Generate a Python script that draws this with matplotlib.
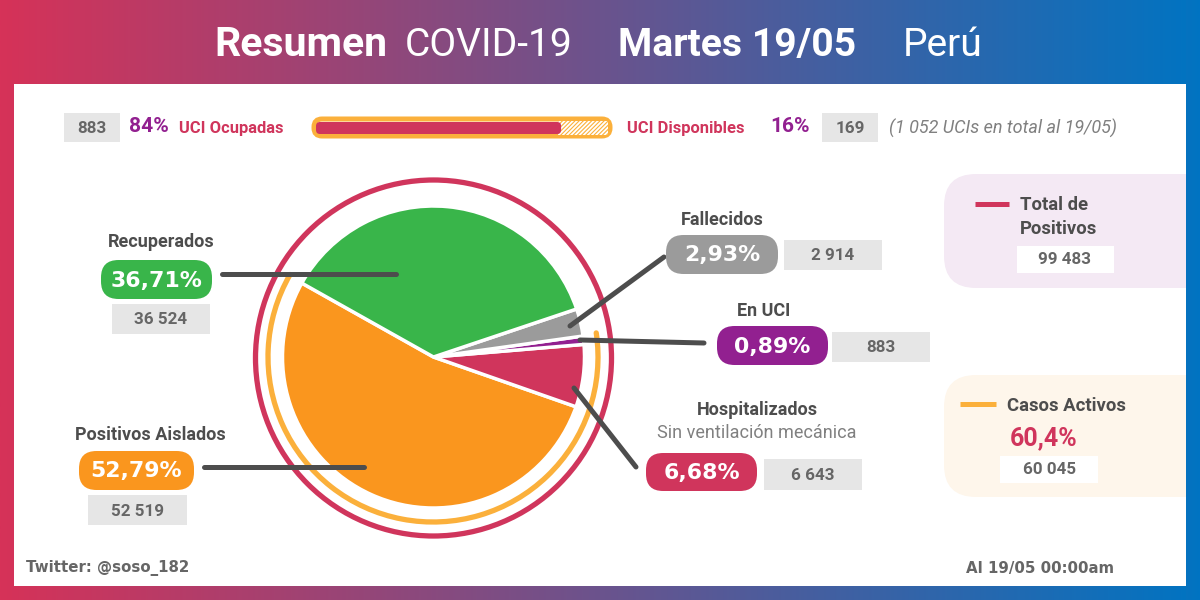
import numpy as np
import matplotlib
matplotlib.use("Agg")
import matplotlib.pyplot as plt
from matplotlib.patches import FancyBboxPatch, Rectangle, Arc, Circle

slice_names = ["Positivos Aislados", "Hospitalizados", "En UCI", "Fallecidos", "Recuperados"]
slice_pct = [52.79, 6.68, 0.89, 2.93, 36.71]
slice_pct_text = ["52,79%", "6,68%", "0,89%", "2,93%", "36,71%"]
slice_counts = ["52 519", "6 643", "883", "2 914", "36 524"]
slice_colors = ["#FA961E", "#D0355C", "#922090", "#9B9B9B", "#39B54A"]
uci_occupied = 883
uci_free = 169
total_pos = "99 483"
activos = "60 045"
activos_pct = 60.4

DARK = "#4D4D4D"; GREY = "#E6E6E6"; CRIM = "#D0355C"; PURP = "#922090"; ORNG = "#FBB03B"
R = "Roboto"; D = "DejaVu Sans"

fig = plt.figure(figsize=(12, 6), dpi=100)
ax = fig.add_axes([0, 0, 1, 1])
ax.set_xlim(0, 1200); ax.set_ylim(600, 0); ax.axis("off")

g = np.linspace(0, 1, 512)[None, :, None]
c0 = np.array([214, 50, 88]) / 255; c1 = np.array([0, 116, 194]) / 255
ax.imshow(c0 + (c1 - c0) * g, extent=[0, 1200, 600, 0], aspect="auto", zorder=0)
ax.add_patch(Rectangle((14, 84), 1172, 502, fc="white", ec="none", zorder=1))

def T(x, y, s, size, color=DARK, w="bold", fam=R, ha="center", style="normal", z=8):
    return ax.text(x, y, s, fontsize=size * 0.72, color=color, fontweight=w, family=fam,
                   ha=ha, va="center", fontstyle=style, zorder=z)

def box(x0, y0, x1, y1, s, size=17):
    ax.add_patch(Rectangle((x0, y0), x1 - x0, y1 - y0, fc=GREY, ec="none", zorder=3))
    T((x0 + x1) / 2, (y0 + y1) / 2 + 1, s, size, "#666666")

def pill(x0, y0, x1, y1, color, s, size=22):
    h = y1 - y0
    ax.add_patch(FancyBboxPatch((x0 + h * .45, y0 + h * .45), x1 - x0 - h * .9, h * .1,
                                boxstyle=f"round,pad=0,rounding_size={h*.45}",
                                mutation_aspect=1, fc=color, ec="none", zorder=6))
    ax.add_patch(FancyBboxPatch((x0 + h * .45, y0 + h * .45), x1 - x0 - h * .9, h * .1,
                                boxstyle=f"round,pad={h*.45},rounding_size={h*.45}",
                                fc=color, ec="none", zorder=6))
    T((x0 + x1) / 2, (y0 + y1) / 2 + 1, s, size, "white", fam=D)

# title
for x, s, w, sz in [(214, "Resumen", "bold", 41), (405, "COVID-19", "normal", 39),
                    (618, "Martes 19/05", "bold", 39), (903, "Perú", "normal", 39)]:
    T(x, 45, s, sz, "white", w, ha="left")

# UCI row
box(64, 113, 120, 142, str(uci_occupied), 17)
T(149, 127, "84%", 21, PURP, fam=R)
T(179, 128, "UCI Ocupadas", 16.5, CRIM, ha="left")
box(822, 113, 878, 142, str(uci_free), 17)
T(627, 128, "UCI Disponibles", 16.5, CRIM, ha="left")
T(790, 127, "16%", 21, PURP, fam=R)
T(889, 128, "(1 052 UCIs en total al 19/05)", 18, "#808080", "normal", ha="left", style="italic")

bar_x0, bar_x1 = 316, 608
share = uci_occupied / (uci_occupied + uci_free)
ax.add_patch(FancyBboxPatch((317, 122), 290, 11, boxstyle="round,pad=3,rounding_size=8",
                            fc="white", ec=ORNG, lw=3.6, zorder=3))
plt.rcParams["hatch.linewidth"] = 0.8
ax.add_patch(Rectangle((bar_x0 + (bar_x1 - bar_x0) * share - 3, 121), (bar_x1 - bar_x0) * (1 - share) + 3, 14,
                       fc="white", ec=ORNG, lw=0, hatch="////////", zorder=4))
ax.add_patch(FancyBboxPatch((bar_x0 + 3, 125), (bar_x1 - bar_x0) * share - 6, 6,
                            boxstyle="round,pad=3,rounding_size=4", fc=CRIM, ec="none", zorder=5))

# pie (own axes, pixel box centred on 433,357)
cx, cy, rad = 433.5, 357, 151
pax = fig.add_axes([(cx - rad) / 1200, 1 - (cy + rad) / 600, 2 * rad / 1200, 2 * rad / 600], zorder=2)
pax.pie(slice_pct, colors=slice_colors, startangle=150.7, counterclock=True, radius=1,
        wedgeprops=dict(edgecolor="white", linewidth=2.5))
pax.set_xlim(-1, 1); pax.set_ylim(-1, 1); pax.patch.set_alpha(0)

# rings: main axes has inverted y so angles are mirrored
ax.add_patch(Circle((433.5, 358), 178, fc="none", ec=CRIM, lw=3.8, zorder=2))
ax.add_patch(Arc((433, 357), 330, 330, theta1=-8.4, theta2=210, ec=ORNG, lw=3.8, zorder=2, capstyle="round"))

ov = fig.add_axes([0, 0, 1, 1], zorder=5)
ov.set_xlim(0, 1200); ov.set_ylim(600, 0); ov.axis("off"); ov.patch.set_alpha(0)
for xs, ys in [((222, 396), (274, 274)), ((204, 364), (467, 467)), ((664, 570), (257, 326)),
               ((704, 580), (343, 340)), ((636, 574), (467, 388))]:
    ov.plot(xs, ys, color=DARK, lw=3.6, solid_capstyle="round")
ax = ov

# labels
T(161, 242, slice_names[4], 18)
pill(101, 260, 212, 299, slice_colors[4], slice_pct_text[4])
box(112, 304, 210, 334, slice_counts[4])

T(150, 435, slice_names[0], 18)
pill(79, 451, 194, 490, slice_colors[0], slice_pct_text[0])
box(88, 495, 187, 525, slice_counts[0])

T(722, 220, slice_names[3], 18)
pill(666, 235, 778, 274, slice_colors[3], slice_pct_text[3])
box(784, 240, 882, 270, slice_counts[3])

T(764, 311, slice_names[2], 18)
pill(717, 326, 828, 365, slice_colors[2], slice_pct_text[2])
box(832, 332, 930, 362, slice_counts[2])

T(757, 410, slice_names[1], 18)
T(757, 433, "Sin ventilación mecánica", 18, "#808080", "normal")
pill(646, 453, 757, 491, slice_colors[1], slice_pct_text[1])
box(764, 459, 862, 490, slice_counts[1])

# side panels
ax.add_patch(FancyBboxPatch((976, 206), 300, 50, boxstyle="round,pad=32,rounding_size=32",
                            fc="#F4E9F4", ec="none", zorder=1.5, clip_on=True))
ax.add_patch(Rectangle((1186, 84), 14, 502, fc="none", ec="none"))
ax.plot([975, 1009], [204, 204], color=CRIM, lw=3.6, solid_capstyle="butt", zorder=3)
T(1020, 205, "Total de", 18.5, ha="left")
T(1020, 229, "Positivos", 18.5, ha="left")
ax.add_patch(Rectangle((1017, 246), 97, 27, fc="white", ec="none", zorder=3))
T(1065, 260, total_pos, 17, "#666666")

ax.add_patch(FancyBboxPatch((976, 407), 300, 58, boxstyle="round,pad=32,rounding_size=32",
                            fc="#FEF6EB", ec="none", zorder=1.5))
ax.plot([960, 996], [404, 404], color=ORNG, lw=3.6, solid_capstyle="butt", zorder=3)
T(1007, 406, "Casos Activos", 18.5, ha="left")
T(1044, 438, f"{activos_pct:.1f}%".replace(".", ","), 25, CRIM)
ax.add_patch(Rectangle((1000, 456), 98, 27, fc="white", ec="none", zorder=3))
T(1050, 470, activos, 17, "#666666")

# cover the side-panel overflow with the gradient edge
ax.imshow(c0 + (c1 - c0) * g[:, -14:, :] , extent=[1186, 1200, 600, 0], aspect="auto", zorder=2)
ax.set_xlim(0, 1200); ax.set_ylim(600, 0)

T(26, 568, "Twitter: @soso_182", 15, "#666666", fam=D, ha="left")
T(966, 568, "Al 19/05 00:00am", 15, "#666666", fam=D, ha="left")

fig.savefig("out.png", dpi=100)
